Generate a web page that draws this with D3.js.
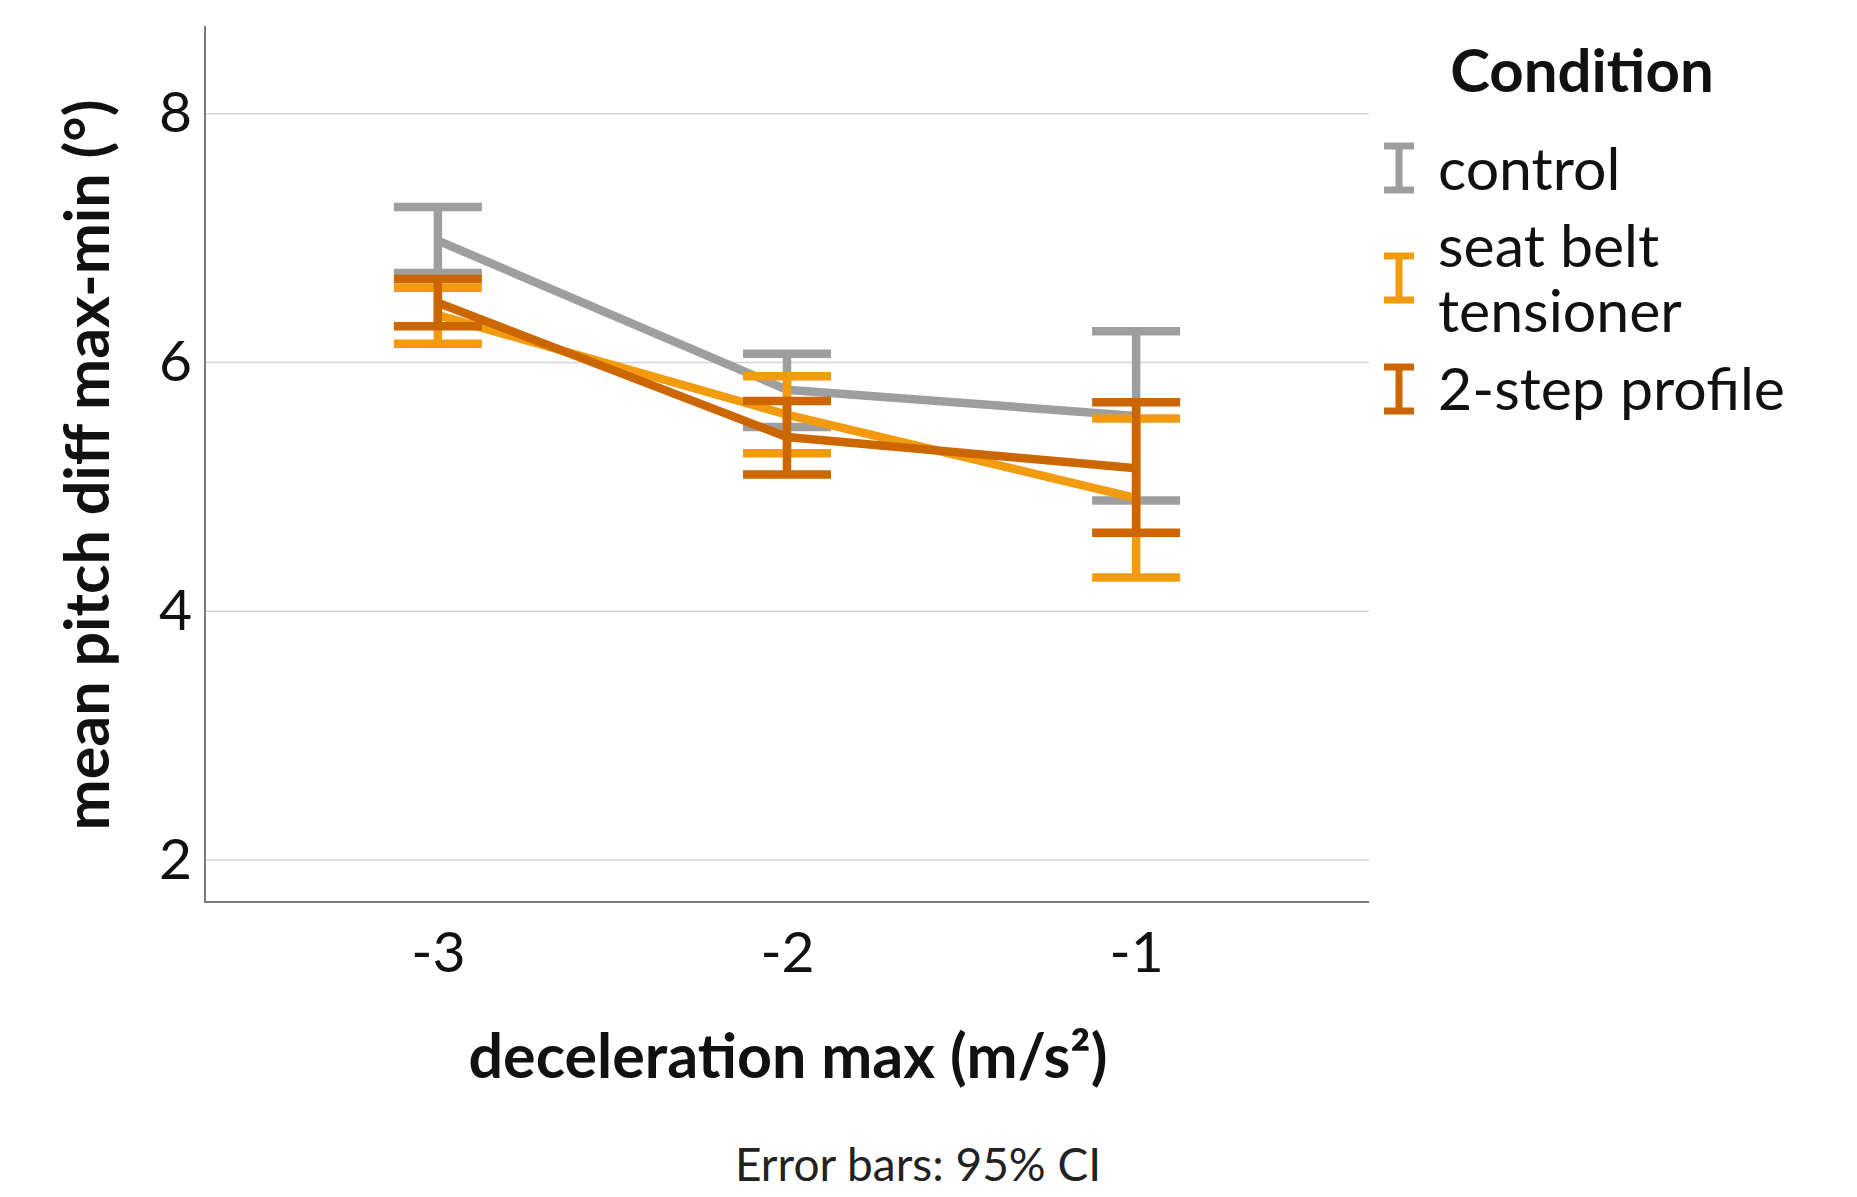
<!DOCTYPE html>
<html>
<head>
<meta charset="utf-8">
<script src="https://d3js.org/d3.v7.min.js"></script>
<style>
    body { margin: 0; background: #fff; }
    svg { font-family: Lato, "DejaVu Sans", sans-serif; }
    .grid line { stroke: #d4d4d4; stroke-width: 1.6px; }
    .frame { stroke: #7a7a7a; stroke-width: 2px; fill: none; }
</style>
</head>
<body>
<script>
    // data
    var decel = [-3, -2, -1];
    var conditions = ["control", "seat belt tensioner", "2-step profile"];
    var colors = ["#9e9e9e", "#f39b0f", "#cc6600"];
    var controlMean = [6.98, 5.78, 5.57];
    var controlLow = [6.72, 5.48, 4.89];
    var controlHigh = [7.25, 6.07, 6.25];
    var beltMean = [6.38, 5.58, 4.91];
    var beltLow = [6.15, 5.27, 4.27];
    var beltHigh = [6.60, 5.89, 5.55];
    var stepMean = [6.48, 5.40, 5.15];
    var stepLow = [6.29, 5.10, 4.63];
    var stepHigh = [6.67, 5.69, 5.68];
    var yTicks = [2, 4, 6, 8];

    var series = [
        {name: conditions[0], color: colors[0], mean: controlMean, lo: controlLow, hi: controlHigh},
        {name: conditions[1], color: colors[1], mean: beltMean, lo: beltLow, hi: beltHigh},
        {name: conditions[2], color: colors[2], mean: stepMean, lo: stepLow, hi: stepHigh}
    ];

    var W = 1857, H = 1197;
    var plotL = 205, plotR = 1369, plotT = 26, plotB = 902;

    var x = d3.scaleLinear().domain([-3.667, -0.333]).range([plotL, plotR]);
    var y = d3.scaleLinear().domain([1.662, 8.705]).range([plotB, plotT]);

    var svg = d3.select("body").append("svg")
        .attr("width", W)
        .attr("height", H);

    // gridlines
    svg.append("g").attr("class", "grid")
        .selectAll("line")
        .data(yTicks)
        .enter().append("line")
        .attr("x1", plotL).attr("x2", plotR)
        .attr("y1", function(d) { return y(d); })
        .attr("y2", function(d) { return y(d); });

    // axes (line only, no ticks)
    var fmt = function(d) { return String(d); };
    var yAxis = svg.append("g")
        .attr("transform", "translate(" + plotL + ",0)")
        .call(d3.axisLeft(y).tickValues(yTicks).tickSize(0).tickPadding(13).tickFormat(fmt));
    var xAxis = svg.append("g")
        .attr("transform", "translate(0," + plotB + ")")
        .call(d3.axisBottom(x).tickValues(decel).tickSize(0).tickPadding(30).tickFormat(fmt));
    [yAxis, xAxis].forEach(function(a) {
        a.select(".domain").remove();
        a.selectAll("text").style("font-family", "Lato").style("font-size", "57px").attr("fill", "#111");
    });
    xAxis.selectAll("text").attr("dy", "0.71em");

    svg.append("path").attr("class", "frame")
        .attr("d", "M" + plotL + "," + plotT + "V" + plotB + "H" + plotR);

    // lines and error bars
    var capHalf = 44, sw = 8.5;
    series.forEach(function(s) {
        var pts = decel.map(function(d, i) { return {x: d, m: s.mean[i], lo: s.lo[i], hi: s.hi[i]}; });
        var line = d3.line()
            .x(function(d) { return x(d.x); })
            .y(function(d) { return y(d.m); });
        var g = svg.append("g");
        g.append("path")
            .datum(pts)
            .attr("d", line)
            .attr("fill", "none")
            .attr("stroke", s.color)
            .attr("stroke-width", sw);
        var eb = g.selectAll(".eb").data(pts).enter().append("g");
        eb.append("line")
            .attr("x1", function(d) { return x(d.x); })
            .attr("x2", function(d) { return x(d.x); })
            .attr("y1", function(d) { return y(d.lo); })
            .attr("y2", function(d) { return y(d.hi); })
            .attr("stroke", s.color).attr("stroke-width", sw);
        ["lo", "hi"].forEach(function(k) {
            eb.append("line")
                .attr("x1", function(d) { return x(d.x) - capHalf; })
                .attr("x2", function(d) { return x(d.x) + capHalf; })
                .attr("y1", function(d) { return y(d[k]); })
                .attr("y2", function(d) { return y(d[k]); })
                .attr("stroke", s.color).attr("stroke-width", sw);
        });
    });

    // axis titles
    svg.append("text")
        .attr("transform", "translate(109,465) rotate(-90)")
        .attr("text-anchor", "middle")
        .style("font-size", "61px").style("font-weight", "bold")
        .attr("fill", "#111")
        .text("mean pitch diff max-min (°)");

    svg.append("text")
        .attr("x", 788).attr("y", 1078)
        .attr("text-anchor", "middle")
        .style("font-size", "61px").style("font-weight", "bold")
        .attr("fill", "#111")
        .text("deceleration max (m/s²)");

    svg.append("text")
        .attr("x", 918).attr("y", 1181)
        .attr("text-anchor", "middle")
        .style("font-size", "46px")
        .attr("fill", "#222")
        .text("Error bars: 95% CI");

    // legend
    svg.append("text")
        .attr("x", 1582).attr("y", 92)
        .attr("text-anchor", "middle")
        .style("font-size", "60px").style("font-weight", "bold")
        .attr("fill", "#111")
        .text("Condition");

    var legendItems = [
        {s: series[0], iconY: 168, lines: ["control"], baseY: 190},
        {s: series[1], iconY: 278, lines: ["seat belt", "tensioner"], baseY: 267},
        {s: series[2], iconY: 389, lines: ["2-step profile"], baseY: 410}
    ];
    legendItems.forEach(function(it) {
        var g = svg.append("g").attr("stroke", it.s.color).attr("stroke-width", 7);
        g.append("line").attr("x1", 1399).attr("x2", 1399).attr("y1", it.iconY - 22).attr("y2", it.iconY + 22);
        g.append("line").attr("x1", 1384).attr("x2", 1414).attr("y1", it.iconY - 22).attr("y2", it.iconY - 22);
        g.append("line").attr("x1", 1384).attr("x2", 1414).attr("y1", it.iconY + 22).attr("y2", it.iconY + 22);
        var t = svg.append("text")
            .attr("x", 1438).attr("y", it.baseY)
            .style("font-size", "59px")
            .attr("fill", "#111");
        it.lines.forEach(function(l, i) {
            t.append("tspan").attr("x", 1438).attr("dy", i === 0 ? 0 : 65).text(l);
        });
    });
</script>
</body>
</html>
